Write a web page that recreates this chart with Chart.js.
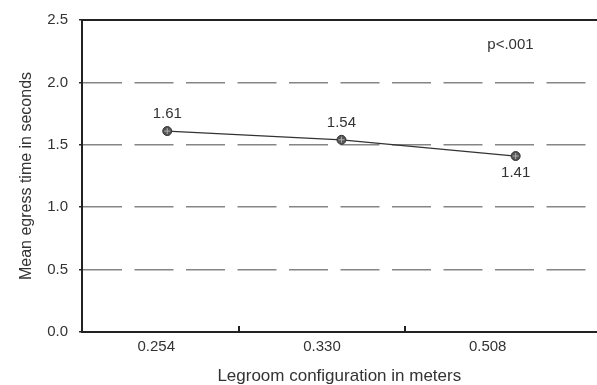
<!DOCTYPE html>
<html>
<head>
<meta charset="utf-8">
<script src="https://cdn.jsdelivr.net/npm/chart.js@4.4.1/dist/chart.umd.min.js"></script>
<style>
  html, body { margin: 0; padding: 0; background: #fff; overflow: hidden; }
  #wrap { width: 597px; height: 385px; overflow: hidden; }
</style>
</head>
<body>
<div id="wrap"><canvas id="c" width="602" height="385"></canvas></div>
<script>
const categories = ['0.254', '0.330', '0.508'];
const meanEgress = [1.61, 1.54, 1.41];
const yTicks = [0, 0.5, 1.0, 1.5, 2.0, 2.5];
const pValueText = 'p<.001';
const labelSide = ['above', 'above', 'below'];

const FONT = "'Liberation Sans', Arial, sans-serif";
const TXT = '#333';

const annotate = {
  id: 'annotate',
  afterDatasetsDraw(chart) {
    const ctx = chart.ctx;
    const meta = chart.getDatasetMeta(0);
    const xs = chart.scales.x, xp = chart.scales.xp, ys = chart.scales.y;
    ctx.save();
    // inward tick marks between categories
    ctx.strokeStyle = '#222';
    ctx.lineWidth = 2;
    [0.5, 1.5].forEach(v => {
      const px = Math.round(xs.getPixelForValue(v));
      ctx.beginPath();
      ctx.moveTo(px, chart.chartArea.bottom);
      ctx.lineTo(px, chart.chartArea.bottom - 6);
      ctx.stroke();
    });
    // hatch inside markers
    ctx.strokeStyle = '#b0b0b0';
    ctx.lineWidth = 1;
    meta.data.forEach(pt => {
      ctx.beginPath();
      ctx.moveTo(pt.x - 3, pt.y); ctx.lineTo(pt.x + 3, pt.y);
      ctx.moveTo(pt.x, pt.y - 3); ctx.lineTo(pt.x, pt.y + 3);
      ctx.stroke();
    });
    // value labels
    ctx.fillStyle = TXT;
    ctx.font = '15px ' + FONT;
    ctx.textAlign = 'center';
    ctx.textBaseline = 'middle';
    meta.data.forEach((pt, i) => {
      const dy = labelSide[i] === 'below' ? 17 : -17;
      ctx.fillText(meanEgress[i].toFixed(2), pt.x, pt.y + dy);
    });
    // p-value note
    ctx.fillText(pValueText, xp.getPixelForValue(1.97), ys.getPixelForValue(2.3));
    ctx.restore();
  }
};

new Chart(document.getElementById('c'), {
  type: 'line',
  data: {
    datasets: [{
      data: meanEgress.map((v, i) => ({ x: i, y: v })),
      xAxisID: 'xp',
      yAxisID: 'y',
      borderColor: '#333',
      borderWidth: 1.2,
      pointStyle: 'circle',
      pointRadius: 4.5,
      pointBackgroundColor: '#555',
      pointBorderColor: '#333',
      pointBorderWidth: 1,
      tension: 0
    }]
  },
  options: {
    responsive: false,
    animation: false,
    events: [],
    layout: { padding: { left: 17, right: 0, top: 20, bottom: 0 } },
    plugins: { legend: { display: false }, tooltip: { enabled: false } },
    scales: {
      x: {
        type: 'linear',
        position: 'bottom',
        min: -0.4476,
        max: 2.6566,
        afterBuildTicks: s => { s.ticks = categories.map((c, i) => ({ value: i })); },
        ticks: {
          callback: v => categories[v] ?? '',
          color: TXT,
          font: { family: FONT, size: 15, lineHeight: 1.0 },
          padding: 7,
          maxRotation: 0,
          autoSkip: false
        },
        grid: { drawOnChartArea: false, drawTicks: false },
        border: { display: true, color: '#222', width: 2 },
        title: {
          display: true,
          text: 'Legroom configuration in meters',
          color: TXT,
          font: { family: FONT, size: 17, lineHeight: 1.0 },
          padding: { top: 7, bottom: 0 }
        }
      },
      xp: {
        type: 'linear',
        position: 'top',
        min: -0.489,
        max: 2.464,
        ticks: { display: false },
        grid: { drawOnChartArea: false, drawTicks: false },
        border: { display: true, color: '#222', width: 2 }
      },
      y: {
        type: 'linear',
        min: 0,
        max: 2.5,
        afterBuildTicks: s => { s.ticks = yTicks.map(v => ({ value: v })); },
        ticks: {
          callback: v => v.toFixed(1),
          color: TXT,
          font: { family: FONT, size: 15 },
          padding: 11
        },
        grid: {
          color: c => (c.tick && (c.tick.value === 0 || c.tick.value === 2.5)) ? 'rgba(0,0,0,0)' : '#858585',
          lineWidth: 1.5,
          tickLength: 3,
          tickColor: '#222',
          tickWidth: 1.5
        },
        border: { display: true, color: '#222', width: 2, dash: [39, 12.5] },
        title: {
          display: true,
          text: 'Mean egress time in seconds',
          color: TXT,
          font: { family: FONT, size: 16, lineHeight: 1.2 },
          padding: { top: 0, bottom: 0 }
        }
      }
    }
  },
  plugins: [annotate]
});
</script>
</body>
</html>
